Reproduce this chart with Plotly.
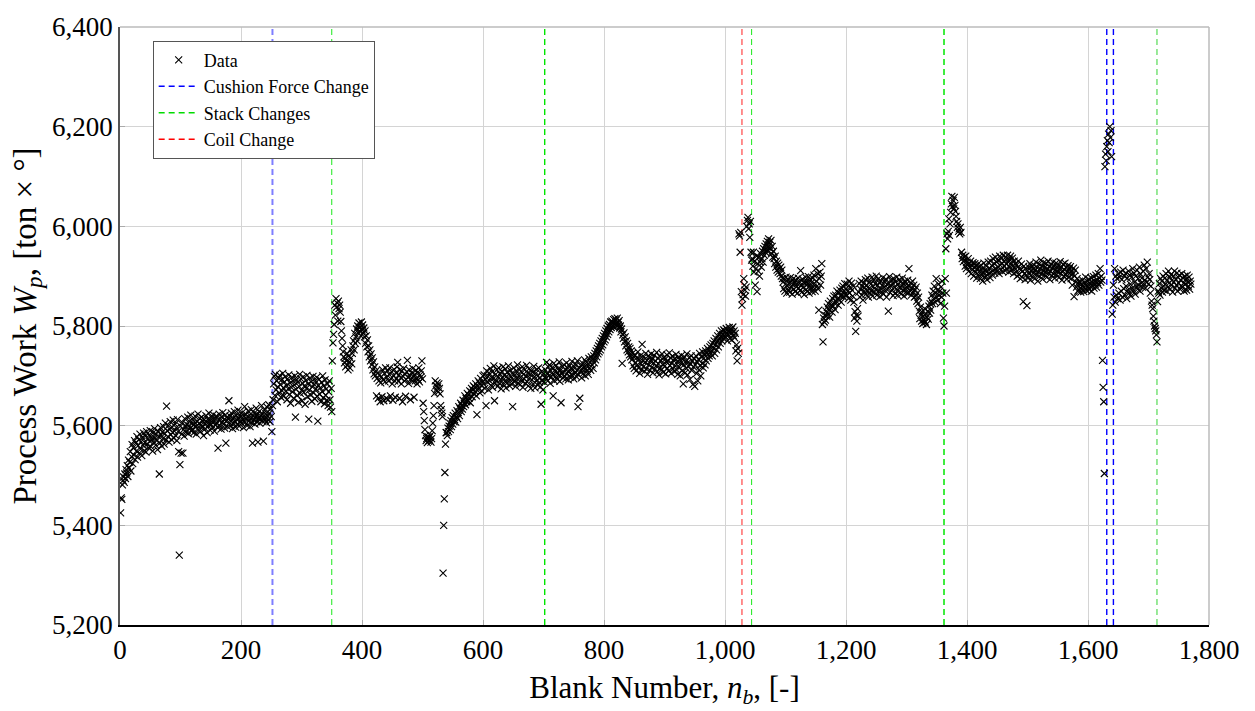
import plotly.graph_objects as go

# ---------------- data ----------------
seg_starts = [1, 253, 351, 703, 1029, 1045, 1363, 1632, 1642, 1715]

work_a = [5425, 5455, 5452, 5481, 5490, 5497, 5486, 5503, 5494, 5512,
          5505, 5520, 5498, 5531, 5515, 5527, 5548, 5509, 5538, 5562,
          5524, 5556, 5541, 5570, 5532, 5565, 5549, 5578, 5537, 5560,
          5572, 5545, 5583, 5553, 5568, 5540, 5576, 5561, 5585, 5550,
          5566, 5579, 5547, 5588, 5563, 5574, 5556, 5581, 5569, 5590,
          5558, 5577, 5572, 5549, 5586, 5566, 5594, 5575, 5561, 5583,
          5570, 5552, 5589, 5578, 5503, 5565, 5596, 5581, 5559, 5587,
          5574, 5598, 5563, 5584, 5605, 5571, 5639, 5590, 5578, 5600,
          5567, 5593, 5608, 5582, 5572, 5597, 5586, 5611, 5575, 5589,
          5603, 5580, 5596, 5570, 5612, 5588, 5548, 5340, 5522, 5599,
          5545, 5583, 5606, 5545, 5592, 5579, 5614, 5598, 5587, 5603,
          5590, 5617, 5584, 5600, 5608, 5595, 5621, 5589, 5604, 5593,
          5611, 5586, 5602, 5619, 5597, 5583, 5609, 5600, 5623, 5592,
          5605, 5614, 5588, 5601, 5617, 5596, 5609, 5580, 5612, 5603,
          5594, 5620, 5607, 5586, 5613, 5599, 5625, 5604, 5591, 5610,
          5602, 5616, 5596, 5622, 5608, 5589, 5614, 5601, 5619, 5605,
          5597, 5555, 5611, 5623, 5600, 5614, 5593, 5618, 5607, 5626,
          5603, 5612, 5595, 5621, 5565, 5609, 5617, 5598, 5613, 5650,
          5606, 5619, 5600, 5625, 5611, 5594, 5616, 5604, 5628, 5609,
          5597, 5620, 5612, 5603, 5631, 5615, 5599, 5622, 5608, 5618,
          5605, 5626, 5611, 5596, 5619, 5638, 5607, 5623, 5613, 5600,
          5617, 5629, 5609, 5621, 5598, 5614, 5632, 5606, 5565, 5619,
          5611, 5625, 5603, 5617, 5635, 5608, 5622, 5567, 5614, 5628,
          5605, 5620, 5613, 5640, 5609, 5623, 5569, 5616, 5631, 5611,
          5624, 5606, 5637, 5619, 5612, 5642, 5625, 5608, 5633, 5618,
          5588, 5640]

work_b = [5652, 5684, 5699, 5661, 5703, 5672, 5690, 5648, 5678, 5695,
          5666, 5701, 5683, 5657, 5692, 5670, 5705, 5676, 5660, 5688,
          5698, 5669, 5681, 5652, 5694, 5674, 5702, 5663, 5686, 5645,
          5677, 5697, 5668, 5690, 5655, 5682, 5700, 5617, 5673, 5692,
          5661, 5687, 5647, 5679, 5703, 5665, 5694, 5671, 5650, 5685,
          5698, 5667, 5680, 5643, 5691, 5675, 5701, 5658, 5684, 5613,
          5672, 5696, 5662, 5688, 5649, 5678, 5699, 5666, 5683, 5654,
          5690, 5674, 5697, 5659, 5609, 5681, 5693, 5663, 5676, 5648,
          5687, 5669, 5700, 5656, 5680, 5644, 5692, 5661, 5674, 5651,
          5684, 5640, 5668, 5690, 5652, 5637, 5675, 5628]

work_c = [5730, 5766, 5783, 5803, 5842, 5822, 5855, 5838, 5846, 5810, 5850, 5835,
          5842, 5828, 5809, 5790, 5775, 5760, 5748, 5738, 5726, 5735,
          5718, 5730, 5745, 5722, 5712, 5740, 5728, 5716, 5735, 5752, 5724, 5745, 5760,
          5770, 5752, 5785, 5765, 5778, 5794, 5770, 5800, 5786, 5806, 5790, 5798, 5780, 5808, 5792,
          5802, 5785, 5796, 5778, 5790, 5765, 5780, 5758, 5772, 5748,
          5760, 5738, 5752, 5730, 5744, 5722, 5736, 5712, 5728, 5704,
          5718, 5700, 5710, 5660, 5695, 5706, 5655, 5690, 5702, 5648,
          5686, 5698, 5658, 5712, 5693, 5650, 5705, 5688, 5716, 5655,
          5697, 5710, 5652, 5690, 5703, 5716, 5660, 5694, 5708, 5684,
          5651, 5700, 5713, 5690, 5657, 5706, 5695, 5718, 5727, 5689,
          5702, 5655, 5712, 5696, 5684, 5710, 5648, 5699, 5715, 5690,
          5704, 5659, 5693, 5708, 5731, 5697, 5685, 5712, 5700, 5652,
          5694, 5706, 5689, 5715, 5698, 5657, 5703, 5690, 5711, 5695,
          5684, 5707, 5692, 5716, 5688, 5702, 5697, 5710, 5730, 5694,
          5645, 5628, 5610, 5592, 5580, 5570, 5574, 5566, 5578, 5569,
          5576, 5571, 5580, 5567, 5574, 5590, 5605, 5620, 5640, 5665,
          5690, 5680, 5672, 5686, 5678, 5668, 5684, 5675, 5664, 5640,
          5632, 5625, 5618, 5304, 5400,
          5453, 5506, 5563, 5586, 5586, 5580, 5595, 5588, 5599, 5605,
          5592, 5610, 5598, 5616, 5603, 5620, 5608, 5612, 5625, 5607,
          5618, 5630, 5614, 5626, 5638, 5620, 5634, 5645, 5628, 5640,
          5633, 5651, 5638, 5645, 5660, 5642, 5655, 5648, 5665, 5650,
          5662, 5655, 5670, 5646, 5668, 5675, 5658, 5672, 5680, 5664,
          5677, 5669, 5684, 5660, 5622, 5679, 5690, 5673, 5686, 5666, 5695, 5681, 5670, 5688, 5700,
          5684, 5702, 5675, 5693, 5640, 5710, 5688, 5699, 5672, 5706,
          5690, 5715, 5681, 5697, 5708, 5677, 5694, 5720, 5650, 5686,
          5703, 5691, 5712, 5679, 5698, 5716, 5685, 5704, 5692, 5674,
          5709, 5696, 5718, 5683, 5701, 5689, 5714, 5676, 5699, 5707,
          5687, 5720, 5694, 5680, 5711, 5698, 5684, 5705, 5638, 5693,
          5716, 5688, 5702, 5679, 5710, 5695, 5722, 5686, 5700, 5713,
          5682, 5697, 5709, 5690, 5718, 5677, 5703, 5694, 5712, 5685,
          5699, 5721, 5688, 5706, 5680, 5714, 5696, 5703, 5675, 5710,
          5692, 5707, 5684, 5719, 5698, 5676, 5705, 5690, 5713, 5682,
          5700, 5716, 5687, 5695, 5678, 5643, 5709, 5690, 5672, 5704, 5688, 5697]

work_d = [5712, 5695, 5727, 5705, 5690, 5718, 5700, 5722, 5685, 5710,
          5698, 5716, 5703, 5660, 5725, 5690, 5712, 5699, 5720, 5706,
          5693, 5714, 5701, 5728, 5689, 5711, 5646, 5704, 5719, 5696,
          5708, 5722, 5700, 5713, 5694, 5726, 5705, 5716, 5692, 5709,
          5721, 5697, 5715, 5703, 5729, 5700, 5712, 5694, 5718, 5706,
          5724, 5699, 5711, 5730, 5638, 5702, 5715, 5655, 5708, 5720,
          5696, 5713, 5725, 5705, 5718, 5732, 5700, 5714, 5727, 5709,
          5720, 5703, 5735, 5716, 5728, 5711, 5738, 5722, 5733, 5715,
          5740, 5726, 5745, 5732, 5750, 5738, 5755, 5744, 5760, 5748,
          5765, 5752, 5770, 5758, 5775, 5762, 5780, 5768,
          5785, 5772, 5790, 5778, 5795, 5783, 5800, 5788, 5803, 5793,
          5808, 5797, 5810, 5800, 5806, 5813, 5798, 5815, 5805, 5812,
          5800, 5816, 5807, 5802, 5811, 5796,
          5800, 5788, 5794, 5725, 5782, 5775, 5786, 5768, 5778, 5760,
          5770, 5752, 5765, 5748, 5758, 5742, 5755, 5738, 5750,
          5732, 5745, 5720, 5738, 5715, 5742, 5727, 5710, 5736, 5722,
          5748, 5716, 5733, 5705, 5740, 5725, 5712, 5763, 5730, 5718,
          5738, 5709, 5727, 5745, 5714, 5731, 5703, 5740, 5722, 5736,
          5711, 5729, 5744, 5717, 5734, 5706, 5726, 5741, 5713, 5730,
          5720, 5747, 5708, 5735, 5724, 5702, 5739, 5716, 5731, 5712,
          5744, 5723, 5707, 5737, 5719, 5733, 5704, 5728, 5742, 5715,
          5730, 5710, 5746, 5721, 5736, 5705, 5725, 5739, 5714, 5731,
          5709, 5735, 5720, 5743, 5712, 5728, 5703, 5737, 5718, 5732,
          5700, 5725, 5741, 5710, 5733, 5684, 5722, 5738, 5706, 5729,
          5715, 5744, 5702, 5727, 5719, 5736, 5693, 5724, 5740, 5711,
          5730, 5683, 5718, 5735, 5679, 5722, 5740, 5705, 5728, 5690,
          5733, 5712, 5745, 5720, 5700, 5738, 5725, 5748, 5716, 5735,
          5742, 5722, 5750, 5730, 5745, 5755, 5735, 5752, 5740, 5758,
          5746, 5762, 5750, 5740, 5765,
          5755, 5770, 5745, 5762, 5775, 5752, 5768, 5780, 5758, 5773,
          5785, 5765, 5778, 5790, 5770, 5783, 5775, 5792, 5780, 5788,
          5778, 5795, 5785, 5770, 5790, 5782, 5797, 5775, 5788, 5793,
          5772, 5786, 5798, 5780, 5790, 5776, 5785,
          5750, 5762, 5730, 5755, 5745, 5985, 5981, 5948, 5988, 5869, 5842]

work_e = [5855, 5863, 5895, 5882, 5872, 5860, 5878, 6000,
          6012, 6018, 5995, 6005, 5978, 6010, 5948, 5932]

work_f = [5935, 5920, 5948, 5908, 5930, 5882, 5915, 5940, 5869, 5925,
          5910, 5938, 5900, 5928, 5945, 5918,
          5935, 5950, 5928, 5955, 5942, 5960, 5948, 5965, 5952, 5970,
          5958, 5975, 5962, 5968, 5955, 5972, 5945, 5960, 5938, 5950,
          5935, 5925, 5940, 5918, 5930, 5912, 5926, 5908, 5922, 5915,
          5905, 5918, 5900, 5912, 5895,
          5888, 5875, 5895, 5870, 5884, 5898, 5866, 5880, 5893, 5872,
          5886, 5868, 5897, 5878, 5890, 5864, 5883, 5895, 5874, 5887,
          5869, 5892, 5879, 5885, 5866, 5896, 5876, 5889, 5871, 5911,
          5882, 5868, 5894, 5877, 5888, 5863, 5885, 5898, 5873, 5890,
          5870, 5884, 5899, 5866, 5880, 5893, 5875, 5887, 5869, 5896,
          5878, 5902, 5885, 5870, 5915, 5890, 5880, 5905, 5874, 5832,
          5895, 5908, 5882, 5900, 5925, 5803, 5768, 5816, 5808, 5822,
          5812, 5830, 5820, 5838, 5825, 5845, 5832, 5818, 5850, 5836,
          5842, 5828, 5855, 5840, 5860, 5846, 5833, 5862, 5850, 5870,
          5855, 5842, 5866, 5852, 5872, 5860, 5848, 5876, 5862, 5880,
          5858, 5870, 5885, 5864, 5875,
          5862, 5884, 5870, 5855, 5890, 5866, 5878, 5852, 5886, 5872,
          5860, 5880, 5848, 5816, 5829, 5789, 5822, 5810, 5835, 5820,
          5868, 5885, 5858, 5874, 5890, 5862, 5880, 5852, 5886, 5870,
          5877, 5893, 5864, 5882, 5870, 5896, 5858, 5875, 5888, 5866,
          5884, 5871, 5898, 5860, 5879, 5892, 5868, 5885, 5873, 5900,
          5862, 5881, 5894, 5870, 5887, 5859, 5876, 5890, 5868, 5882,
          5897, 5864, 5878, 5889, 5871, 5894, 5858, 5883, 5876, 5830,
          5885, 5899, 5867, 5880, 5892, 5872, 5886, 5861, 5895, 5878,
          5866, 5889, 5874, 5898, 5862, 5883, 5870, 5893, 5877, 5888,
          5864, 5880, 5896, 5872, 5885, 5860, 5890, 5875, 5868, 5884,
          5878, 5892, 5866, 5915, 5880, 5870, 5886, 5862, 5875, 5890,
          5868, 5882, 5858, 5873, 5860, 5878, 5850, 5866, 5845, 5858,
          5830, 5815, 5838, 5822, 5810, 5828, 5805, 5820, 5812, 5835,
          5808, 5825, 5803, 5818, 5830, 5814, 5840, 5826, 5845, 5832,
          5850, 5862, 5845, 5870, 5855, 5880, 5848, 5866, 5895, 5858,
          5872, 5852, 5884, 5862, 5870, 5845, 5878, 5858, 5890, 5866, 5816, 5800]

work_g = [5840, 5895, 5955, 5866, 5985, 5975, 5990, 6015, 5982, 6005,
          6028, 6045, 6060, 6040, 6052, 6035, 6058, 6042, 6030, 6020, 6010, 5998, 6005,
          5990, 5995, 5985, 5998, 5988, 5948, 5935, 5942, 5929, 5938,
          5932, 5920, 5940, 5915, 5928, 5922, 5935, 5910, 5926, 5918,
          5930, 5905, 5921, 5913, 5927, 5900, 5917, 5925, 5908, 5920,
          5896, 5914, 5924, 5903, 5918,
          5910, 5895, 5922, 5902, 5915, 5890, 5908, 5926, 5898, 5912,
          5900, 5920, 5893, 5910, 5928, 5904, 5916, 5897, 5930, 5908,
          5921, 5902, 5935, 5912, 5925, 5906, 5938, 5915, 5928, 5910,
          5932, 5918, 5905, 5940, 5922, 5912, 5935, 5926, 5909, 5942,
          5920, 5930, 5911, 5938, 5924, 5915, 5942, 5928, 5908, 5934,
          5918, 5940, 5926, 5912, 5936, 5920, 5905, 5930, 5915, 5925,
          5908, 5922, 5900, 5918, 5930, 5903, 5915, 5895, 5912, 5924,
          5898, 5910, 5849, 5920, 5905, 5893, 5915, 5902, 5841, 5911,
          5896, 5918, 5904, 5925, 5892, 5910, 5920, 5899, 5914, 5906,
          5922, 5895, 5912, 5928, 5903, 5917, 5890, 5908, 5924, 5900,
          5915, 5932, 5905, 5920, 5894, 5911, 5927, 5902, 5918, 5908,
          5925, 5898, 5913, 5930, 5906, 5919, 5893, 5910, 5923, 5901,
          5916, 5928, 5904, 5920, 5896, 5912, 5926, 5903, 5917, 5909,
          5922, 5897, 5914, 5929, 5905, 5918, 5892, 5911, 5924, 5900,
          5913, 5926, 5902, 5917, 5894, 5909, 5921, 5898, 5915, 5906,
          5919, 5895, 5910, 5882, 5904, 5916, 5859, 5900, 5912, 5888,
          5878, 5895, 5870, 5886, 5872, 5890, 5876, 5868, 5884, 5874,
          5892, 5880, 5869, 5887, 5875, 5898, 5882, 5871, 5889, 5878,
          5894, 5873, 5886, 5879, 5897, 5870, 5888, 5881, 5899, 5876,
          5890, 5884, 5902, 5878, 5893, 5887, 5905, 5882, 5896, 5915,
          5888, 5900, 5892, 5731, 5677, 5648, 5504, 6120, 6145, 6132, 6160]

work_h = [6172, 6150, 6185, 6168, 6200, 6178, 6192, 6140, 5824, 5842]

work_i = [5882, 5858, 5915, 5848, 5900, 5862, 5895, 5855, 5905,
          5866, 5898, 5852, 5908, 5870, 5893, 5858, 5912, 5875, 5900,
          5862, 5905, 5880, 5855, 5896, 5872, 5910, 5866, 5902, 5884,
          5860, 5898, 5876, 5915, 5870, 5906, 5888, 5864, 5900, 5880,
          5912, 5874, 5895, 5882, 5918, 5870, 5904, 5886, 5896, 5878,
          5910, 5885, 5922, 5892, 5876, 5915, 5888, 5928, 5898, 5884,
          5905, 5893, 5866, 5880, 5850, 5842, 5835, 5820, 5810, 5800,
          5795, 5790, 5782, 5768]

work_j = [5849, 5870, 5866, 5885, 5862, 5895, 5876, 5890, 5868, 5900,
          5880, 5872, 5896, 5884, 5905, 5870, 5892, 5878, 5910, 5886,
          5898, 5874, 5903, 5882, 5892, 5868, 5900, 5888, 5910, 5876,
          5894, 5882, 5906, 5870, 5898, 5886, 5902, 5874, 5892, 5880,
          5905, 5878, 5896, 5886, 5870, 5900, 5884, 5894, 5872, 5902,
          5888, 5880, 5898, 5874, 5890, 5884]

cushion_changes = [252, 1631, 1642]
stack_changes = [350, 702, 1044, 1362, 1714]
coil_changes = [1028]

x_ticks = [0, 200, 400, 600, 800, 1000, 1200, 1400, 1600, 1800]
y_ticks = [5200, 5400, 5600, 5800, 6000, 6200, 6400]

# ---------------- assemble ----------------
segments = [work_a, work_b, work_c, work_d, work_e, work_f, work_g, work_h, work_i, work_j]
blank, work = [], []
for start, seg in zip(seg_starts, segments):
    blank += list(range(start, start + len(seg)))
    work += seg

SERIF = "Liberation Serif, serif"
DASH = "6px,4px"

# per-line styles (colour, width) - matched to reference rendering
line_styles = {
    ("cushion", 0): ("rgba(40,40,255,0.6)", 2.0),
    ("cushion", 1): ("rgb(0,0,255)", 1.4),
    ("cushion", 2): ("rgb(0,0,255)", 1.4),
    ("stack", 0): ("rgba(0,230,0,0.9)", 1.0),
    ("stack", 1): ("rgb(0,230,0)", 1.4),
    ("stack", 2): ("rgba(0,230,0,0.9)", 1.0),
    ("stack", 3): ("rgb(0,230,0)", 1.5),
    ("stack", 4): ("rgba(0,200,0,0.8)", 1.0),
    ("coil", 0): ("rgba(255,40,40,0.65)", 1.6),
}

fig = go.Figure()
fig.add_trace(go.Scatter(
    x=blank, y=work, mode="markers", name="Data",
    marker=dict(symbol="x-thin", size=7, color="black",
                line=dict(color="black", width=1.1)),
))
for name, col in [("Cushion Force Change", "rgb(0,0,255)"),
                  ("Stack Changes", "rgb(0,220,0)"),
                  ("Coil Change", "rgb(255,0,0)")]:
    fig.add_trace(go.Scatter(x=[None], y=[None], mode="lines", name=name,
                             line=dict(color=col, width=1.5, dash=DASH)))

shapes = []
for kind, xs in [("cushion", cushion_changes), ("stack", stack_changes), ("coil", coil_changes)]:
    for i, xv in enumerate(xs):
        col, w = line_styles[(kind, i)]
        shapes.append(dict(type="line", xref="x", yref="paper", x0=xv, x1=xv, y0=0, y1=1,
                           line=dict(color=col, width=w, dash=DASH), layer="between"))
# light top/right frame
shapes.append(dict(type="line", xref="paper", yref="paper", x0=0, x1=1, y0=1, y1=1,
                   line=dict(color="#bbbbbb", width=1.5), layer="above"))
shapes.append(dict(type="line", xref="paper", yref="paper", x0=1, x1=1, y0=0, y1=1,
                   line=dict(color="#bbbbbb", width=1.5), layer="above"))

fig.update_layout(
    width=1255, height=711,
    margin=dict(l=120, r=46, t=22, b=84),
    paper_bgcolor="white", plot_bgcolor="white",
    font=dict(family=SERIF, size=27, color="black"),
    shapes=shapes,
    showlegend=True,
    legend=dict(x=0.03, y=0.977, xanchor="left", yanchor="top",
                bgcolor="white", bordercolor="#555555", borderwidth=1,
                font=dict(family=SERIF, size=18, color="black"),
                tracegroupgap=0, itemwidth=40),
    xaxis=dict(range=[0, 1800], tickvals=x_ticks, tickformat=",d",
               tickfont=dict(family=SERIF, size=27),
               showgrid=True, gridcolor="#d4d4d4", gridwidth=1.2,
               showline=True, linecolor="black", linewidth=1.5,
               ticks="inside", ticklen=5, tickcolor="#aaaaaa",
               zeroline=False,
               title=dict(text="Blank Number, <i>n</i><sub><i>b</i></sub>, [-]",
                          standoff=12, font=dict(family=SERIF, size=31))),
    yaxis=dict(range=[5200, 6400], tickvals=y_ticks, tickformat=",d",
               tickfont=dict(family=SERIF, size=27),
               showgrid=True, gridcolor="#d4d4d4", gridwidth=1.2,
               showline=True, linecolor="#555555", linewidth=1.5,
               ticks="inside", ticklen=5, tickcolor="#aaaaaa",
               zeroline=False,
               title=dict(text="Process Work <i>W</i><sub><i>p</i></sub>, [ton × °]",
                          standoff=6, font=dict(family=SERIF, size=33))),
)

fig.write_html("out.html")
